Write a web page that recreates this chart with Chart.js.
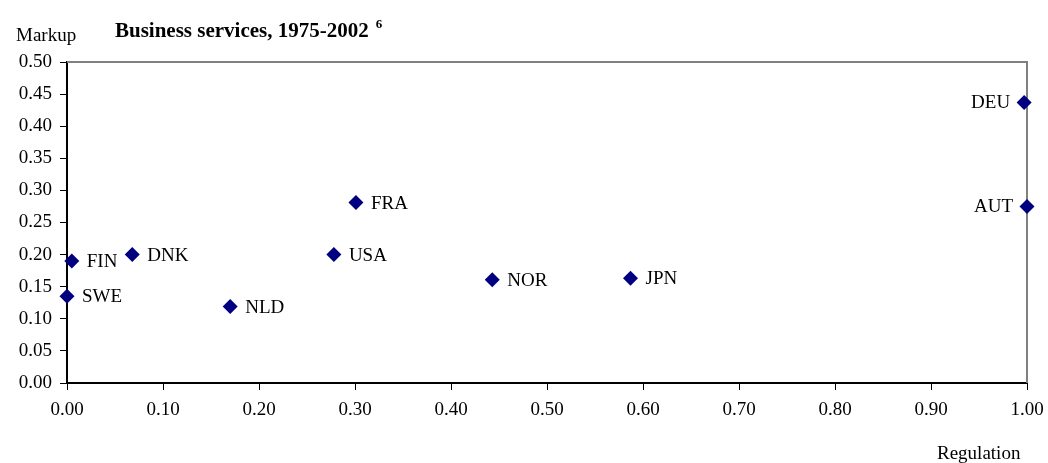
<!DOCTYPE html>
<html>
<head>
    <title>Business services, 1975-2002</title>
    <script src="https://cdn.jsdelivr.net/npm/chart.js"></script>
    <style>
        body {
            margin: 0;
            background-color: white;
        }
        #wrap {
            width: 1048px;
            height: 463px;
        }
    </style>
</head>
<body>
    <div id="wrap">
        <canvas id="markupChart" width="1048" height="463"></canvas>
    </div>

    <script>
        // Data
        const countries = ['SWE', 'FIN', 'DNK', 'NLD', 'USA', 'FRA', 'NOR', 'JPN', 'DEU', 'AUT'];
        const regulation = [0.000, 0.005, 0.068, 0.170, 0.278, 0.301, 0.443, 0.587, 0.997, 1.000];
        const markup = [0.135, 0.190, 0.200, 0.119, 0.200, 0.281, 0.161, 0.163, 0.437, 0.275];
        // labels that sit to the left of their point
        const leftLabels = ['DEU', 'AUT'];

        const serif = '"Liberation Serif", "Times New Roman", serif';

        const points = countries.map((c, i) => ({ x: regulation[i], y: markup[i] }));

        // Draws country names, frame and axis captions
        const extras = {
            id: 'extras',
            beforeDatasetsDraw(chart) {
                const c = chart.ctx;
                const area = chart.chartArea;
                // grey frame on top and right
                c.save();
                c.strokeStyle = '#808080';
                c.lineWidth = 2;
                c.beginPath();
                c.moveTo(area.left, area.top);
                c.lineTo(area.right, area.top);
                c.lineTo(area.right, area.bottom);
                c.stroke();
                c.restore();
            },
            afterDatasetsDraw(chart) {
                const c = chart.ctx;
                const xs = chart.scales.x;
                const ys = chart.scales.y;

                c.save();
                c.fillStyle = '#000';
                c.font = '19px ' + serif;
                c.textBaseline = 'middle';
                countries.forEach((name, i) => {
                    const px = xs.getPixelForValue(regulation[i]);
                    const py = ys.getPixelForValue(markup[i]);
                    if (leftLabels.includes(name)) {
                        c.textAlign = 'right';
                        c.fillText(name, px - 14, py + 1);
                    } else {
                        c.textAlign = 'left';
                        c.fillText(name, px + 15, py + 1);
                    }
                });

                c.textAlign = 'left';
                c.textBaseline = 'alphabetic';
                c.fillText('Markup', 16, 41);
                c.fillText('Regulation', 937, 459);

                const title = 'Business services, 1975-2002';
                c.font = 'bold 21px ' + serif;
                c.fillText(title, 115, 37);
                const w = c.measureText(title).width;
                c.font = 'bold 13px ' + serif;
                c.fillText('6', 115 + w + 7, 28);
                c.restore();
            }
        };

        const ctx = document.getElementById('markupChart').getContext('2d');
        const chart = new Chart(ctx, {
            type: 'scatter',
            data: {
                datasets: [{
                    data: points,
                    pointStyle: 'rectRot',
                    pointRadius: 7.5,
                    backgroundColor: '#000080',
                    borderColor: '#000080',
                    borderWidth: 0,
                    clip: false
                }]
            },
            options: {
                responsive: false,
                animation: false,
                events: [],
                layout: {
                    padding: { left: 0, top: 62, right: 21, bottom: 0 }
                },
                plugins: {
                    legend: { display: false },
                    tooltip: { enabled: false }
                },
                scales: {
                    x: {
                        min: 0,
                        max: 1,
                        afterFit(scale) {
                            scale.height = 80;
                            scale.paddingLeft = 0;
                            scale.paddingRight = 0;
                        },
                        ticks: {
                            stepSize: 0.1,
                            color: '#000',
                            padding: 9,
                            maxRotation: 0,
                            font: { family: serif, size: 19 },
                            callback: v => v.toFixed(2)
                        },
                        grid: {
                            drawOnChartArea: false,
                            drawTicks: true,
                            tickLength: 7,
                            color: '#000'
                        },
                        border: { color: '#000', width: 2 }
                    },
                    y: {
                        min: 0,
                        max: 0.5,
                        afterFit(scale) { scale.width = 67; },
                        ticks: {
                            stepSize: 0.05,
                            color: '#000',
                            padding: 8,
                            font: { family: serif, size: 19 },
                            callback: v => v.toFixed(2)
                        },
                        grid: {
                            drawOnChartArea: false,
                            drawTicks: true,
                            tickLength: 7,
                            color: '#000'
                        },
                        border: { color: '#000', width: 2 }
                    }
                }
            },
            plugins: [extras]
        });
    </script>
</body>
</html>
